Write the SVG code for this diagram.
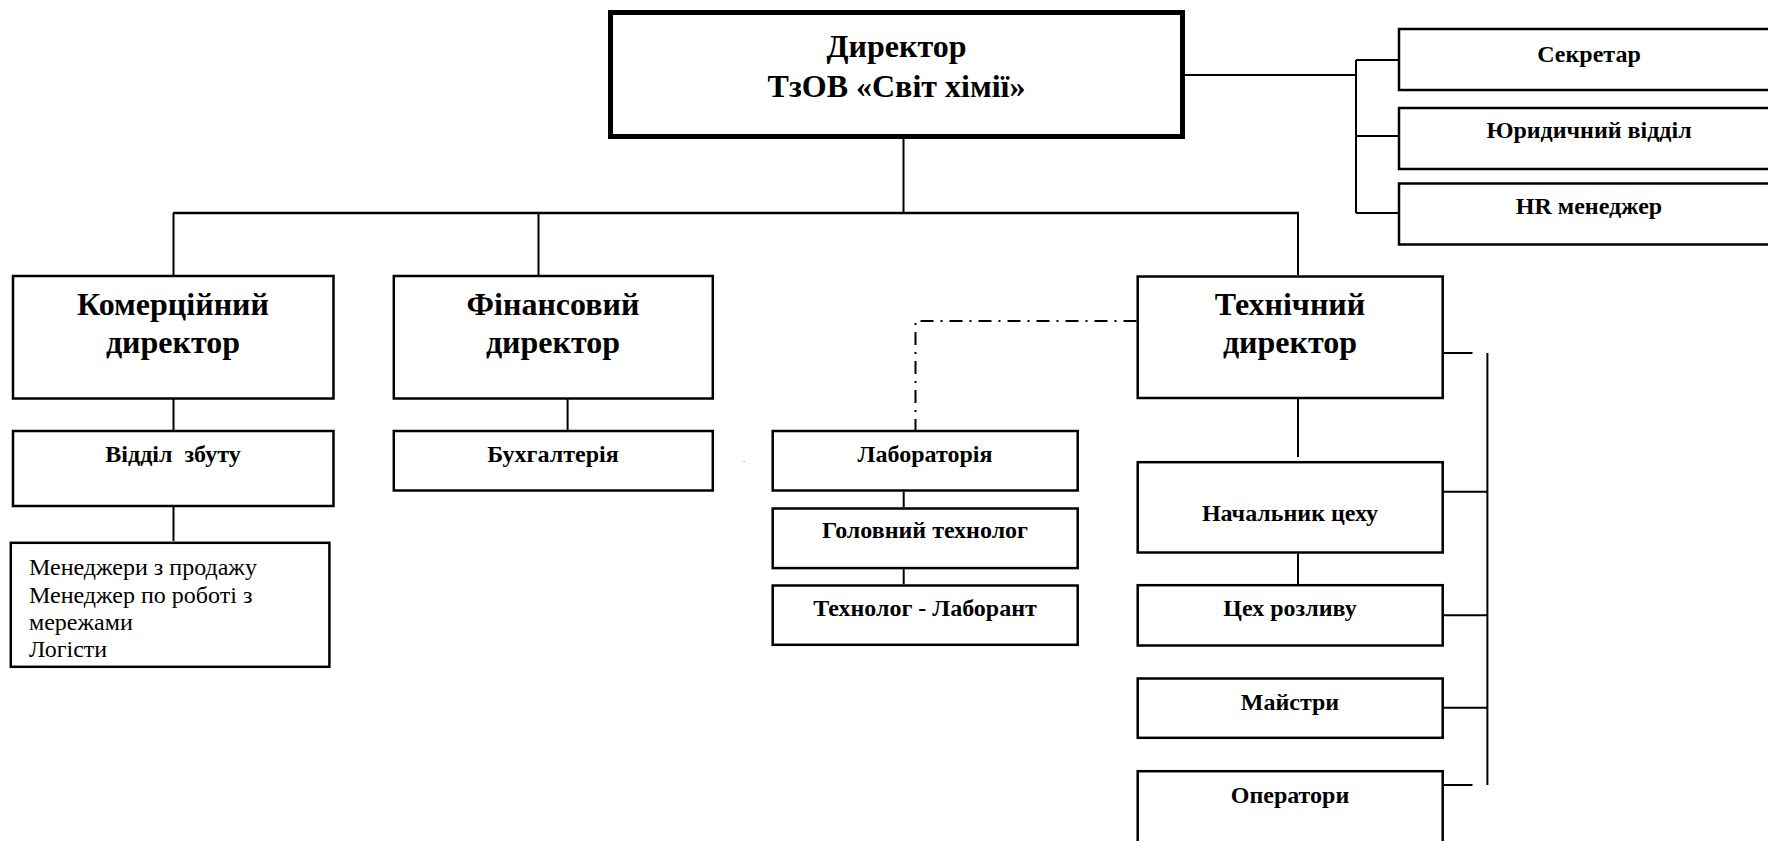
<svg xmlns="http://www.w3.org/2000/svg" width="1768" height="841" viewBox="0 0 1768 841">
<style>
.box{fill:#fff;stroke:#000;stroke-width:2.5}
.main{fill:#fff;stroke:#000;stroke-width:5}
.b{font-family:"Liberation Serif","Times New Roman",serif;font-weight:bold;text-anchor:middle;fill:#000}
.big{font-size:32px}
.sm{font-size:24px}
.r{font-family:"Liberation Serif","Times New Roman",serif;font-size:24px;fill:#000}
.ln{fill:none;stroke:#000;stroke-width:2}
.bus{fill:none;stroke:#000;stroke-width:2.5}
.dd{fill:none;stroke:#000;stroke-width:2;stroke-dasharray:13 7 2 7}
</style>
<rect width="1768" height="841" fill="#fff"/>
<g id="connectors">
<path class="ln" d="M903.5 139V213"/>
<path class="bus" d="M173 213H1299"/>
<path class="ln" d="M173.5 213V275M538.5 213V275M1298 213V275"/>
<path class="ln" d="M173.5 399V430M173.5 507V541"/>
<path class="ln" d="M567.6 399V430"/>
<path class="ln" d="M903.7 491.7V507.3M903.7 569.3V584.3"/>
<path class="ln" d="M1298 399V457M1298 553.7V584"/>
<path class="ln" d="M1185 75H1356M1356 60V213M1356 60H1399M1356 136H1399M1356 213H1399"/>
<path class="ln" d="M1444 353H1472.5M1487.4 353V785M1444 491.7H1487.4M1444 615.3H1487.4M1444 707.7H1487.4M1444 785H1472.5"/>
<path class="dd" d="M1136.5 321H915.5V430"/>
</g>
<g id="director"><rect class="main" x="610.5" y="12.5" width="572" height="124"/><text class="b big" x="896.5" y="57">Директор</text><text class="b big" x="896.5" y="97">ТзОВ «Світ хімії»</text></g>
<g id="secretary"><rect class="box" x="1399" y="29" width="420" height="61"/><text class="b sm" x="1589" y="62">Секретар</text></g>
<g id="legal"><rect class="box" x="1399" y="108" width="420" height="61"/><text class="b sm" x="1589" y="138">Юридичний відділ</text></g>
<g id="hr"><rect class="box" x="1399" y="183.5" width="420" height="61"/><text class="b sm" x="1589" y="214">HR менеджер</text></g>
<g id="commercial"><rect class="box" x="13" y="276" width="320.5" height="122.5"/><text class="b big" x="173" y="315">Комерційний</text><text class="b big" x="173" y="353">директор</text></g>
<g id="financial"><rect class="box" x="393.8" y="276" width="319" height="122.5"/><text class="b big" x="553" y="315">Фінансовий</text><text class="b big" x="553" y="353">директор</text></g>
<g id="technical"><rect class="box" x="1137.7" y="276.5" width="305" height="121.5"/><text class="b big" x="1290" y="315">Технічний</text><text class="b big" x="1290" y="353">директор</text></g>
<g id="sales"><rect class="box" x="13" y="431" width="320.5" height="75"/><text class="b sm" x="173" y="462" xml:space="preserve">Відділ  збуту</text></g>
<g id="accounting"><rect class="box" x="393.8" y="431" width="319" height="59.5"/><text class="b sm" x="553" y="462">Бухгалтерія</text></g>
<text x="743" y="462" font-family="Liberation Serif,serif" font-size="8" fill="#000">.</text>
<g id="managers"><rect class="box" x="10.8" y="542.8" width="318.6" height="124"/><text class="r" x="29" y="575">Менеджери з продажу</text><text class="r" x="29" y="603">Менеджер по роботі з</text><text class="r" x="29" y="630">мережами</text><text class="r" x="29" y="657">Логісти</text></g>
<g id="lab"><rect class="box" x="772.7" y="431" width="305" height="59.5"/><text class="b sm" x="925" y="462">Лабораторія</text></g>
<g id="chief-tech"><rect class="box" x="772.7" y="508.5" width="305" height="59.6"/><text class="b sm" x="925" y="538">Головний технолог</text></g>
<g id="tech-lab"><rect class="box" x="772.7" y="585.5" width="305" height="59.3"/><text class="b sm" x="925" y="616">Технолог - Лаборант</text></g>
<g id="shop-head"><rect class="box" x="1137.7" y="462.2" width="305" height="90.3"/><text class="b sm" x="1290" y="521">Начальник цеху</text></g>
<g id="bottling"><rect class="box" x="1137.7" y="585.2" width="305" height="60.3"/><text class="b sm" x="1290" y="616">Цех розливу</text></g>
<g id="masters"><rect class="box" x="1137.7" y="678.5" width="305" height="59.3"/><text class="b sm" x="1290" y="710">Майстри</text></g>
<g id="operators"><rect class="box" x="1137.7" y="771.2" width="305" height="100"/><text class="b sm" x="1290" y="803">Оператори</text></g>
</svg>
